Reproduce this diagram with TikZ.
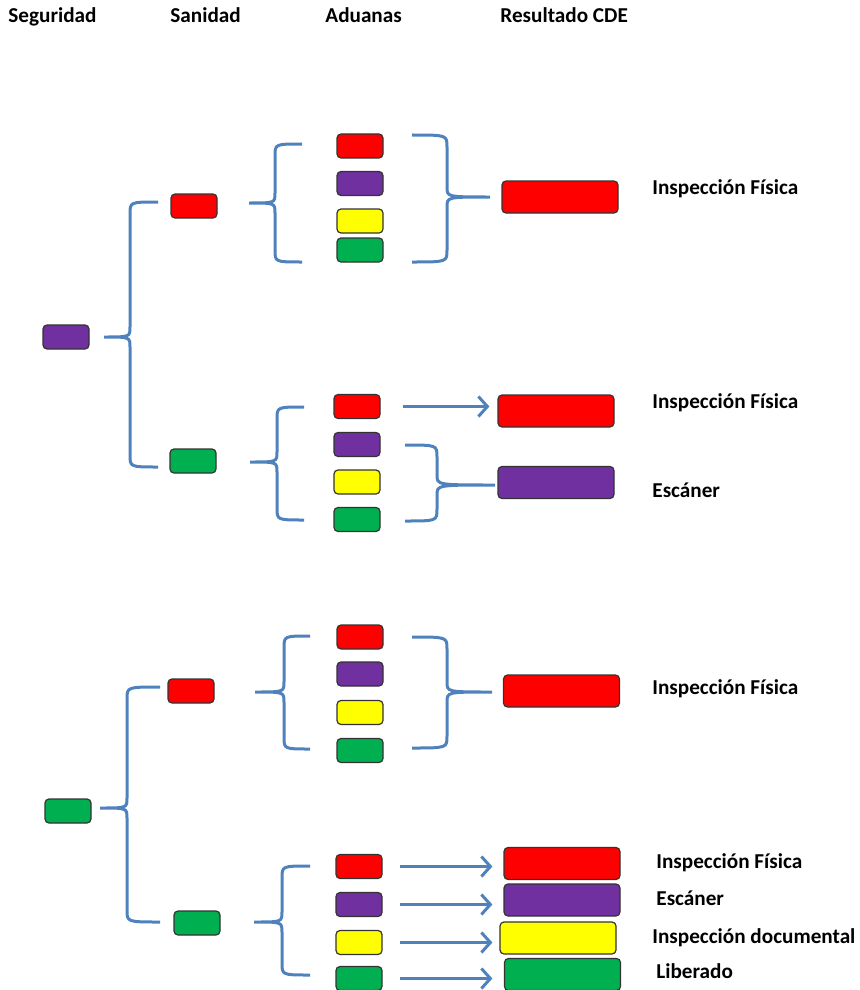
\documentclass[tikz,border=0pt]{standalone}
\usepackage{fontspec}
\setmainfont{Carlito}
\usepackage{tikz}
\definecolor{color01}{HTML}{FF0000}
\definecolor{color02}{HTML}{7030A0}
\definecolor{color03}{HTML}{FFFF00}
\definecolor{color04}{HTML}{00B050}
\definecolor{color05}{HTML}{4F81BD}
\usetikzlibrary{arrows.meta, calc, positioning}

% left brace: end x, vertical x, tip x, top y, bottom y, tip y
\newcommand{\lbr}[6]{%
  \draw[brace] (#1,#4) .. controls (#2,#4) .. (#2,#4+12)
    -- (#2,#6-10) .. controls (#2,#6) .. (#3,#6)
    .. controls (#2,#6) .. (#2,#6+10)
    -- (#2,#5-12) .. controls (#2,#5) .. (#1,#5);}
% right brace: same order of arguments
\newcommand{\rbr}[6]{%
  \draw[brace] (#1,#4) .. controls (#2,#4) .. (#2,#4+12)
    -- (#2,#6-10) .. controls (#2,#6) .. (#3,#6)
    .. controls (#2,#6) .. (#2,#6+10)
    -- (#2,#5-12) .. controls (#2,#5) .. (#1,#5);}

\begin{document}
\begin{tikzpicture}[x=0.5pt, y=-0.5pt]

  \tikzstyle{box} = [%
  draw=black!80,
  line width=0.6pt,
  rectangle,
  rounded corners=2pt,
  minimum width=23pt,
  minimum height=12pt,
  inner sep=0pt,
  ];
  \tikzstyle{res} = [box, minimum width=58pt, minimum height=16pt];
  \tikzstyle{lab} = [anchor=base west, inner sep=0pt, font=\fontsize{10.6}{12}\selectfont\bfseries];
  \tikzstyle{brace} = [draw=color05, line width=1.5pt];
  \tikzstyle{arr} = [draw=color05, line width=1.5pt,
  -{Straight Barb[length=4.5pt, width=10pt, line width=1.5pt]}];

  \useasboundingbox (0,0) rectangle (859,990);

  % headers
  \node[lab] (hseg) at (8,23) {Seguridad};
  \node[lab] (hsan) at (170,23) {Sanidad};
  \node[lab] (hadu) at (325,23) {Aduanas};
  \node[lab] (hres) at (500,23) {Resultado CDE};

  % seguridad purple
  \node[box, fill=color02] (seg1) at (66,337) {};
  \node[box, fill=color01] (s1r) at (194,206) {};
  \node[box, fill=color04] (s1g) at (193,461) {};
  \lbr{158}{130}{104}{202}{467}{337}

  \node[box, fill=color01] (a1r) at (360,146) {};
  \node[box, fill=color02] (a1p) at (360,183.5) {};
  \node[box, fill=color03] (a1y) at (360,221) {};
  \node[box, fill=color04] (a1g) at (360,250) {};
  \lbr{302}{275}{249}{144}{262}{203}
  \rbr{412}{447}{490}{135}{262}{197}
  \node[res, fill=color01] (r1) at (560,197) {};
  \node[lab] (l1) at (652,194) {Inspección Física};

  \node[box, fill=color01] (a2r) at (357,406.5) {};
  \node[box, fill=color02] (a2p) at (357,444.5) {};
  \node[box, fill=color03] (a2y) at (357,482) {};
  \node[box, fill=color04] (a2g) at (357,519.5) {};
  \lbr{304}{277}{250}{407}{520}{462}
  \rbr{405}{437}{495}{445}{521}{485}
  \node[res, fill=color01] (r2) at (556,411) {};
  \node[res, fill=color02] (r3) at (556,482.5) {};
  \draw[arr, shorten <=11pt, shorten >=4pt] (a2r.east) -- (a2r.east -| r2.west);
  \node[lab] (l2) at (652,408) {Inspección Física};
  \node[lab] (l3) at (652,497) {Escáner};

  % seguridad green
  \node[box, fill=color04] (seg2) at (68,811) {};
  \node[box, fill=color01] (s2r) at (191,691) {};
  \node[box, fill=color04] (s2g) at (197,923) {};
  \lbr{160}{127}{100}{687}{922}{808}

  \node[box, fill=color01] (b1r) at (360,637) {};
  \node[box, fill=color02] (b1p) at (360,674) {};
  \node[box, fill=color03] (b1y) at (360,712.5) {};
  \node[box, fill=color04] (b1g) at (360,750.5) {};
  \lbr{310}{284}{255}{636}{749}{692}
  \rbr{412}{447}{492}{637}{748}{692}
  \node[res, fill=color01] (r4) at (561.5,691) {};
  \node[lab] (l4) at (652,694) {Inspección Física};

  \node[box, fill=color01] (b2r) at (359,866.5) {};
  \node[box, fill=color02] (b2p) at (359,904.5) {};
  \node[box, fill=color03] (b2y) at (359,942.5) {};
  \node[box, fill=color04] (b2g) at (359,978.5) {};
  \lbr{310}{282}{254}{866}{975}{922}
  \node[res, fill=color01] (r5) at (562,863.5) {};
  \node[res, fill=color02] (r6) at (562,900) {};
  \node[res, fill=color03] (r7) at (558,938) {};
  \node[res, fill=color04] (r8) at (562.5,974.5) {};
  \foreach \a/\r in {b2r/r5, b2p/r6, b2y/r7, b2g/r8}
    \draw[arr, shorten <=8.5pt, shorten >=5.5pt] (\a.east) -- (\a.east -| r5.west);
  \node[lab] (l5) at (656,868) {Inspección Física};
  \node[lab] (l6) at (656,905) {Escáner};
  \node[lab] (l7) at (652,943) {Inspección documental};
  \node[lab] (l8) at (656,978) {Liberado};

\end{tikzpicture}
\end{document}
